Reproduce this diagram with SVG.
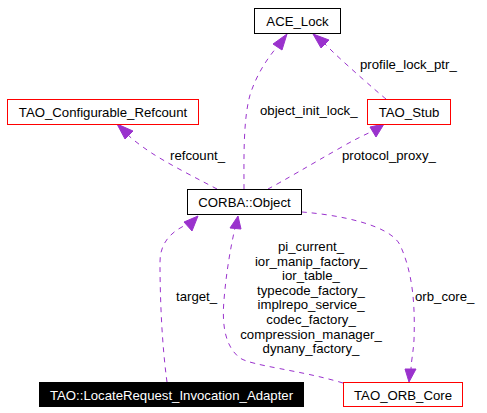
<svg xmlns="http://www.w3.org/2000/svg" width="487" height="413" viewBox="0 0 487 413">
<style>
text{font-family:"Liberation Sans",Arial,sans-serif;font-size:13.2px;fill:#000}
.n{fill:#fff;stroke:#000;stroke-width:1}
.r{fill:#fff;stroke:#ff0000;stroke-width:1}
.b{fill:#000;stroke:#000;stroke-width:1}
.e{fill:none;stroke:#9a32cd;stroke-width:1;stroke-dasharray:5,5}
.a{fill:#9a32cd;stroke:#9a32cd;stroke-width:1}
.c{text-anchor:middle}
</style>
<rect width="487" height="413" fill="#fff"/>
<g id="connectors">
<path class="e" d="M244,189 C244,160 243,120 250,95 C256,76 266,60 277,47"/>
<polygon class="a" points="287,34 282,50 273,44"/>
<path class="e" d="M386,99 C375,90 350,68 333,52 L324,43"/>
<polygon class="a" points="313,34 329,40 321,48"/>
<path class="e" d="M268,189 C285,180 310,165 340,148 C352,141 362,136 373,131"/>
<polygon class="a" points="384,124 376,137 370,127"/>
<path class="e" d="M217,189 C200,180 170,165 150,152 C140,145 133,140 127,134"/>
<polygon class="a" points="117,124 133,131 125,139"/>
<path class="e" d="M167,382 C162,345 160,300 160,262 C160,242 172,231 188,224"/>
<polygon class="a" points="198,216 192,231 184,222"/>
<path class="e" d="M343,383 C300,370 252,366 240,358 C224,346 222,322 224,300 C226,275 230,250 235,228"/>
<polygon class="a" points="238,216 241,229 230,228"/>
<path class="e" d="M302,212 C340,215 390,225 400,245 C414,275 415,310 414,340 C413,355 411,362 411,370"/>
<polygon class="a" points="409,382 405,369 416,369"/>
<text x="260" y="115">object_init_lock_</text>
<text x="360" y="69">profile_lock_ptr_</text>
<text x="342" y="160">protocol_proxy_</text>
<text x="170" y="160">refcount_</text>
<text x="176" y="301">target_</text>
<text x="415" y="301">orb_core_</text>
<text class="c" x="311" y="251">pi_current_</text>
<text class="c" x="311" y="265.6">ior_manip_factory_</text>
<text class="c" x="311" y="280.2">ior_table_</text>
<text class="c" x="311" y="294.8">typecode_factory_</text>
<text class="c" x="311" y="309.4">implrepo_service_</text>
<text class="c" x="311" y="324">codec_factory_</text>
<text class="c" x="311" y="338.6">compression_manager_</text>
<text class="c" x="311" y="353.2">dynany_factory_</text>
</g>
<g id="ACE_Lock"><rect class="n" x="254.5" y="8.5" width="86" height="25"/><text class="c" x="297.5" y="25.5">ACE_Lock</text></g>
<g id="TAO_Stub"><rect class="r" x="367.5" y="99.5" width="83" height="25"/><text class="c" x="409" y="116.5">TAO_Stub</text></g>
<g id="TAO_Configurable_Refcount"><rect class="r" x="7.5" y="99.5" width="191" height="25"/><text class="c" x="103" y="116.5">TAO_Configurable_Refcount</text></g>
<g id="CORBA_Object"><rect class="n" x="187.5" y="189.5" width="114" height="25"/><text class="c" x="244.5" y="207">CORBA::Object</text></g>
<g id="TAO_LocateRequest_Invocation_Adapter"><rect class="b" x="39.5" y="382.5" width="264" height="24"/><text class="c" x="171.5" y="399.5" style="fill:#fff">TAO::LocateRequest_Invocation_Adapter</text></g>
<g id="TAO_ORB_Core"><rect class="r" x="343.5" y="382.5" width="119" height="24"/><text class="c" x="403" y="399.5">TAO_ORB_Core</text></g>
</svg>
